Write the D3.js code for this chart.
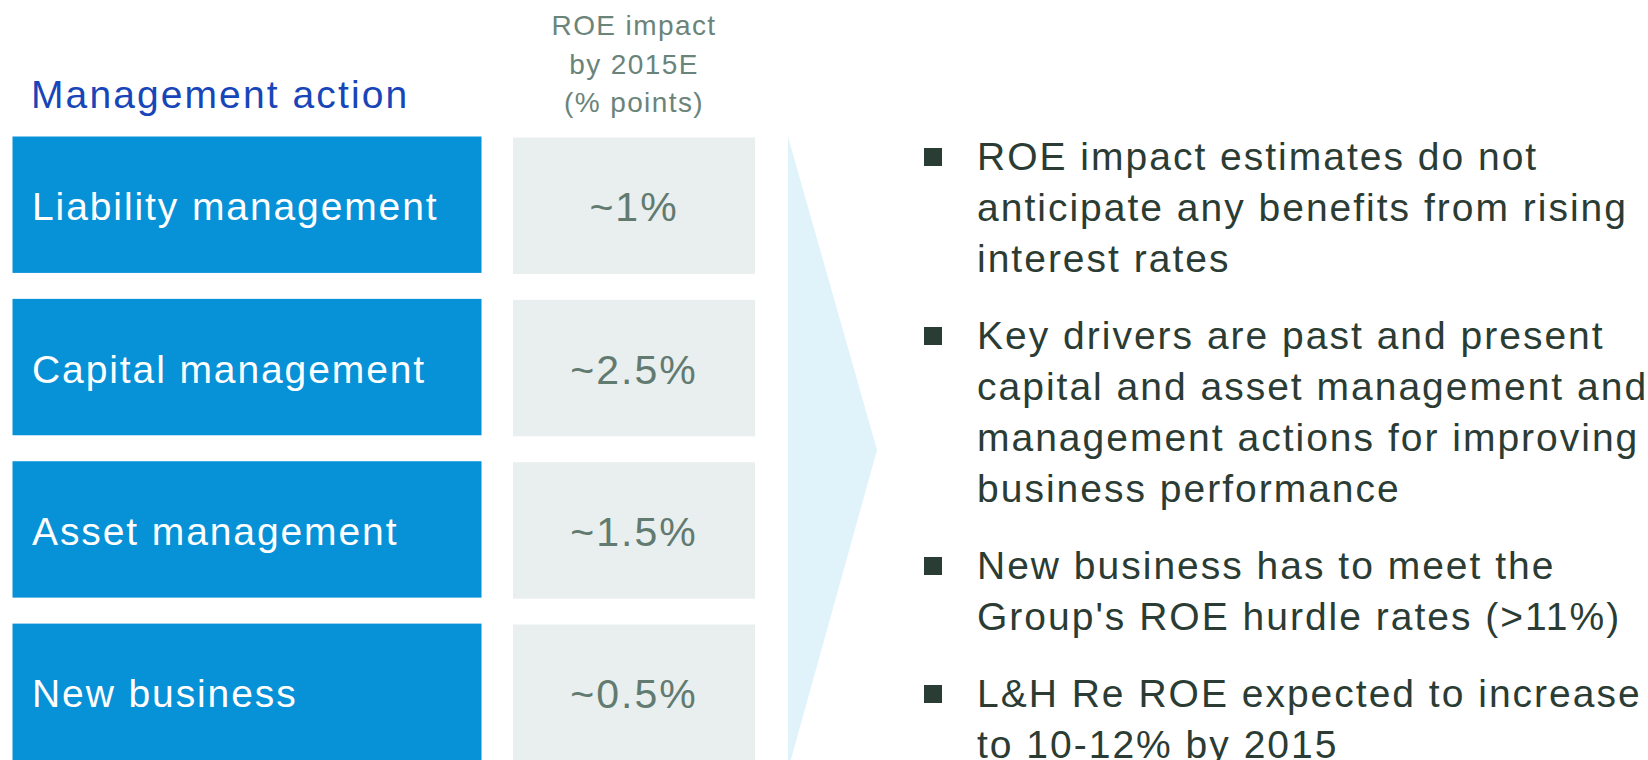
<!DOCTYPE html>
<html lang="en">
<head>
    <meta charset="UTF-8">
    <title>ROE impact by management action</title>
    <style>
        html, body { margin: 0; padding: 0; background: #ffffff; }
        svg { display: block; }
        text { font-family: "Liberation Sans", Arial, sans-serif; }
    </style>
</head>
<body>
    <div id="chart"></div>

    <script src="https://d3js.org/d3.v7.min.js"></script>

    <script>
        // chart data
        const actions = ["Liability management", "Capital management", "Asset management", "New business"];
        const impacts = ["~1%", "~2.5%", "~1.5%", "~0.5%"];
        const leftTitle = "Management action";
        const rightTitle = ["ROE impact", "by 2015E", "(% points)"];
        const bullets = [
            ["ROE impact estimates do not", "anticipate any benefits from rising", "interest rates"],
            ["Key drivers are past and present", "capital and asset management and", "management actions for improving", "business performance"],
            ["New business has to meet the", "Group's ROE hurdle rates (>11%)"],
            ["L&H Re ROE expected to increase", "to 10-12% by 2015"]
        ];

        const width = 1648, height = 760;

        const svg = d3.select("#chart").append("svg")
            .attr("width", width)
            .attr("height", height);

        // rows of boxes
        const y = d3.scaleBand()
            .domain(actions)
            .range([136.5, 760])
            .paddingInner(0.16);

        // the two columns
        const col = d3.scaleOrdinal()
            .domain(["action", "impact"])
            .range([[12.5, 481.5], [513, 755]]);

        const [ax0, ax1] = col("action");
        const [ix0, ix1] = col("impact");

        // light blue chevron behind the table/bullets junction
        svg.append("path")
            .attr("d", d3.line()([[788, 137], [877, 450], [788, 770]]) + "Z")
            .attr("fill", "#e0f2fa");

        // column headers
        svg.append("text")
            .attr("x", 31)
            .attr("y", 108)
            .attr("font-size", 39)
            .attr("letter-spacing", 2.1)
            .attr("fill", "#1846b8")
            .text(leftTitle);

        svg.append("g").selectAll("text")
            .data(rightTitle)
            .join("text")
                .attr("x", (ix0 + ix1) / 2)
                .attr("y", (d, i) => 35 + i * 38.5)
                .attr("text-anchor", "middle")
                .attr("font-size", 28)
                .attr("letter-spacing", 1.4)
                .attr("fill", "#6b847a")
                .text(d => d);

        // blue action boxes
        const rows = svg.append("g").selectAll("g")
            .data(actions)
            .join("g");

        rows.append("rect")
            .attr("x", ax0)
            .attr("y", d => y(d))
            .attr("width", ax1 - ax0)
            .attr("height", y.bandwidth())
            .attr("fill", "#0791d7");

        rows.append("text")
            .attr("x", 32)
            .attr("y", d => y(d) + y.bandwidth() / 2 + 15.5)
            .attr("font-size", 39)
            .attr("letter-spacing", 1.9)
            .attr("fill", "#ffffff")
            .text(d => d);

        // grey impact boxes
        rows.append("rect")
            .attr("x", ix0)
            .attr("y", d => y(d) + 1)
            .attr("width", ix1 - ix0)
            .attr("height", y.bandwidth())
            .attr("fill", "#e9eeee");

        rows.append("text")
            .attr("x", (ix0 + ix1) / 2)
            .attr("y", d => y(d) + y.bandwidth() / 2 + 16.5)
            .attr("text-anchor", "middle")
            .attr("font-size", 41)
            .attr("letter-spacing", 2)
            .attr("fill", "#617b71")
            .text((d, i) => impacts[i]);

        // bullet list on the right
        const lineH = 51, paraGap = 26, firstBase = 170;
        const lines = [];
        let n = 0;
        bullets.forEach((para, p) => {
            para.forEach((t, j) => {
                lines.push({ text: t, para: p, first: j === 0, y: firstBase + n * lineH + p * paraGap });
                n++;
            });
        });

        const list = svg.append("g");

        list.selectAll("rect")
            .data(lines.filter(d => d.first))
            .join("rect")
                .attr("x", 924)
                .attr("y", d => d.y - 22)
                .attr("width", 18)
                .attr("height", 18)
                .attr("fill", "#2a3d35");

        list.selectAll("text")
            .data(lines)
            .join("text")
                .attr("x", 977)
                .attr("y", d => d.y)
                .attr("font-size", 39)
                .attr("letter-spacing", 2)
                .attr("fill", "#2b3c34")
                .text(d => d.text);
    </script>
</body>
</html>
